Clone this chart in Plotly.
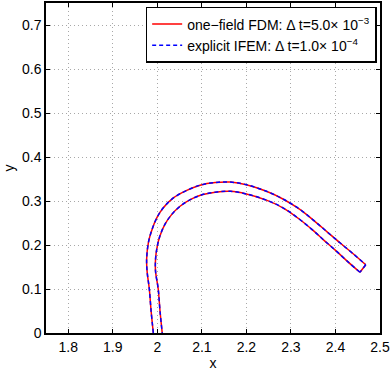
import plotly.graph_objects as go

# Outer edge of the bent strip (bottom -> tip)
outer_x = [1.991, 1.986, 1.982, 1.977, 1.976, 1.980, 1.987, 1.999, 2.013, 2.036, 2.066, 2.096, 2.130, 2.164,
           2.200, 2.245, 2.283, 2.320, 2.351, 2.380, 2.410, 2.441, 2.468]
outer_y = [0.000, 0.050, 0.100, 0.140, 0.168, 0.206, 0.232, 0.262, 0.284, 0.307, 0.324, 0.336, 0.342, 0.343,
           0.337, 0.322, 0.304, 0.281, 0.256, 0.231, 0.205, 0.179, 0.155]
# Inner edge (tip -> bottom)
inner_x = [2.455, 2.430, 2.402, 2.375, 2.351, 2.320, 2.283, 2.245, 2.200, 2.164, 2.130, 2.100, 2.074,
           2.051, 2.032, 2.017, 2.006, 2.000, 1.996, 1.996, 2.002, 2.006, 2.011]
inner_y = [0.138, 0.160, 0.186, 0.210, 0.232, 0.258, 0.284, 0.302, 0.316, 0.322, 0.320, 0.314, 0.303,
           0.288, 0.269, 0.247, 0.221, 0.198, 0.168, 0.140, 0.100, 0.050, 0.000]
# End cap at the tip
cap_x = [2.468, 2.455]
cap_y = [0.155, 0.138]

series = [
    dict(name="one\u2212field FDM: \u0394 t=5.0\u00d7 10<sup>\u22123</sup>", color="#ff0000", dash="solid",
         outer=(outer_x, outer_y), inner=(inner_x, inner_y), cap=(cap_x, cap_y)),
    dict(name="explicit IFEM: \u0394 t=1.0\u00d7 10<sup>\u22124</sup>", color="#0000ff", dash="4px,3px",
         outer=(list(outer_x), list(outer_y)), inner=(list(inner_x), list(inner_y)), cap=(list(cap_x), list(cap_y))),
]

x_ticks = [1.8, 1.9, 2.0, 2.1, 2.2, 2.3, 2.4, 2.5]
x_labels = ["1.8", "1.9", "2", "2.1", "2.2", "2.3", "2.4", "2.5"]
y_ticks = [0, 0.1, 0.2, 0.3, 0.4, 0.5, 0.6, 0.7]
y_labels = ["0", "0.1", "0.2", "0.3", "0.4", "0.5", "0.6", "0.7"]

fig = go.Figure()
for i, s in enumerate(series):
    line = dict(color=s["color"], width=1.5, dash=s["dash"])
    g = "g%d" % i
    fig.add_trace(go.Scatter(x=s["outer"][0], y=s["outer"][1], mode="lines",
                             line=dict(line, shape="spline", smoothing=1.0),
                             name=s["name"], legendgroup=g, showlegend=True))
    fig.add_trace(go.Scatter(x=s["cap"][0], y=s["cap"][1], mode="lines", line=line,
                             name=s["name"], legendgroup=g, showlegend=False))
    fig.add_trace(go.Scatter(x=s["inner"][0], y=s["inner"][1], mode="lines",
                             line=dict(line, shape="spline", smoothing=1.0),
                             name=s["name"], legendgroup=g, showlegend=False))

axis_common = dict(showline=True, linecolor="black", linewidth=1.5, mirror="ticks",
                   ticks="inside", ticklen=4, tickcolor="black",
                   showgrid=True, gridcolor="#a8a8a8", gridwidth=1, griddash="1px,3px",
                   zeroline=False, tickfont=dict(size=14, color="black"))

fig.update_xaxes(range=[1.75, 2.5], tickvals=x_ticks, ticktext=x_labels,
                 title=dict(text="x", font=dict(size=14, color="black"), standoff=1), **axis_common)
fig.update_yaxes(range=[0, 0.75], tickvals=y_ticks, ticktext=y_labels,
                 title=dict(text="y", font=dict(size=14, color="black"), standoff=4), **axis_common)

fig.update_layout(
    width=391, height=373,
    margin=dict(l=46, r=11, t=1, b=40),
    paper_bgcolor="white", plot_bgcolor="white",
    font=dict(family="Liberation Sans, Arial, sans-serif", size=14, color="black"),
    legend=dict(x=0.99, y=0.988, xanchor="right", yanchor="top",
                bgcolor="white", bordercolor="black", borderwidth=1.5,
                font=dict(size=14), itemwidth=30, tracegroupgap=0),
    showlegend=True,
)

fig.write_html("out.html")
